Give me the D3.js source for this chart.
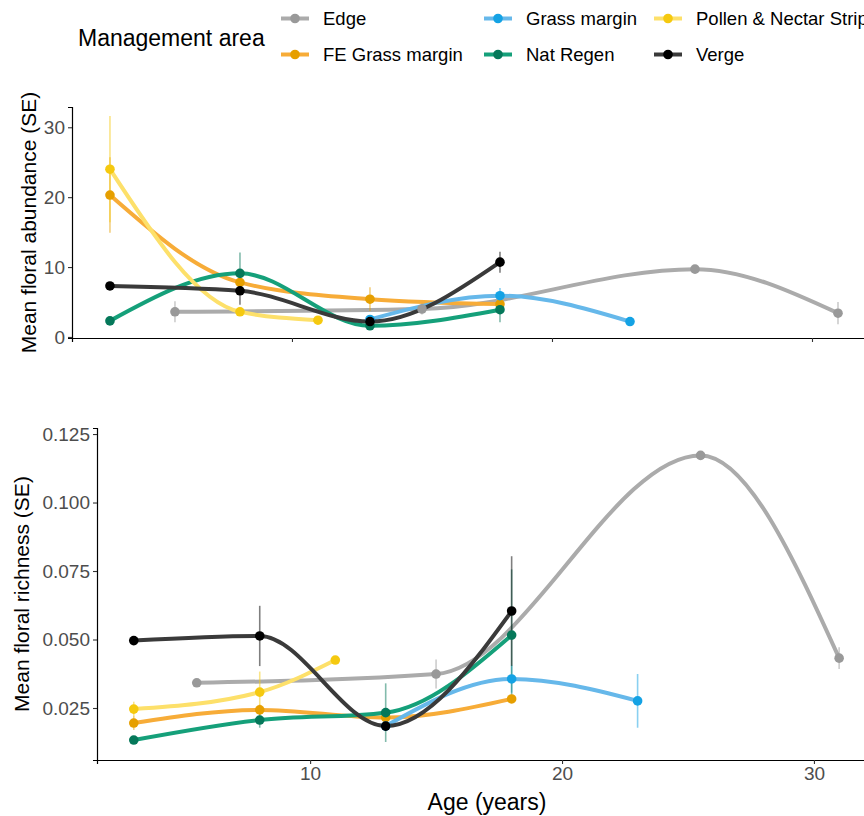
<!DOCTYPE html>
<html>
<head>
<meta charset="utf-8">
<script src="https://cdn.jsdelivr.net/npm/d3@7"></script>
<style>
  body { margin: 0; background: #fff; }
  svg { display: block; font-family: "Liberation Sans", Arial, sans-serif; }
</style>
</head>
<body>
<svg id="chart" width="864" height="816"></svg>
<script>
// ============ data ============
const areas = ['Edge', 'FE Grass margin', 'Grass margin', 'Nat Regen', 'Pollen & Nectar Strip', 'Verge'];
const pointColors = ['#999999', '#E69F00', '#14A2E4', '#05785A', '#F5C90F', '#000000'];
const lineColors = ['#ABABAB', '#F7AC38', '#66B8EA', '#15A07A', '#FDE06A', '#3A3A3A'];

const edgeAge = [5.5, 15, 25.5, 31];
const edgeAbund = [3.6, 4.0, 9.7, 3.4];
const edgeAbundSE = [1.5, 0.8, 0.4, 1.6];
const edgeRich = [0.0342, 0.0374, 0.1172, 0.0432];
const edgeRichSE = [0.001, 0.0053, 0.0008, 0.004];

const feAge = [3, 8, 13, 18];
const feAbund = [20.3, 7.8, 5.4, 4.7];
const feAbundSE = [5.4, 0.8, 1.7, 0.8];
const feRich = [0.0195, 0.0243, 0.0215, 0.0283];
const feRichSE = [0.0025, 0.002, 0.001, 0.001];

const grassAge = [13, 18, 23];
const grassAbund = [2.5, 5.9, 2.2];
const grassAbundSE = [0.4, 1.1, 0.3];
const grassRich = [0.0184, 0.0356, 0.0276];
const grassRichSE = [0.001, 0.005, 0.0098];

const natAge = [3, 8, 13, 18];
const natAbund = [2.3, 9.1, 1.6, 3.9];
const natAbundSE = [0.4, 3.0, 0.3, 1.8];
const natRich = [0.0133, 0.0206, 0.0233, 0.0516];
const natRichSE = [0.001, 0.0028, 0.0107, 0.024];

const pollenAge = [3, 8, 11];
const pollenAbund = [24.0, 3.6, 2.4];
const pollenAbundSE = [7.6, 0.5, 0.3];
const pollenRich = [0.0246, 0.0308, 0.0425];
const pollenRichSE = [0.0027, 0.0075, 0.001];

const vergeAge = [3, 8, 13, 18];
const vergeAbund = [7.3, 6.6, 2.2, 10.7];
const vergeAbundSE = [0.4, 2.0, 0.5, 1.5];
const vergeRich = [0.0496, 0.0513, 0.0184, 0.0604];
const vergeRichSE = [0.001, 0.011, 0.0015, 0.020];

const xTicks = [10, 20, 30];
const abundTicks = [0, 10, 20, 30];
const richTicks = [0.025, 0.050, 0.075, 0.100, 0.125];

// build series table
const ages = [edgeAge, feAge, grassAge, natAge, pollenAge, vergeAge];
const abund = [edgeAbund, feAbund, grassAbund, natAbund, pollenAbund, vergeAbund];
const abundSE = [edgeAbundSE, feAbundSE, grassAbundSE, natAbundSE, pollenAbundSE, vergeAbundSE];
const rich = [edgeRich, feRich, grassRich, natRich, pollenRich, vergeRich];
const richSE = [edgeRichSE, feRichSE, grassRichSE, natRichSE, pollenRichSE, vergeRichSE];

function seriesFor(vals, ses) {
  return areas.map((name, i) => ({
    name, i,
    pts: ages[i].map((a, j) => ({ x: a, y: vals[i][j], se: ses[i][j] }))
  }));
}

const svg = d3.select('#chart');
const tickFont = 19;
const titleFont = 23;
const yTitleFont = 21;

// ============ panels ============
function drawPanel(opts) {
  const x = d3.scaleLinear().domain([1.54, 32.4]).range([opts.left, 874.4]);
  const y = d3.scaleLinear().domain(opts.yDomain).range([opts.bottom, opts.top]);
  const g = svg.append('g');

  // axes
  const xAxis = d3.axisBottom(x).tickValues(xTicks).tickSize(4).tickPadding(3);
  if (!opts.xLabels) xAxis.tickFormat('');
  const gx = g.append('g').attr('transform', `translate(0,${opts.bottom})`).call(xAxis);
  gx.select('.domain').attr('stroke', '#000').attr('stroke-width', 1.2);
  gx.selectAll('.tick line').attr('stroke', '#333').attr('stroke-width', 1.1);
  gx.selectAll('.tick text').attr('font-size', tickFont).attr('fill', '#4d4d4d');

  const gy = g.append('g').attr('transform', `translate(${opts.left},0)`)
    .call(d3.axisLeft(y).tickValues(opts.yTicks).tickFormat(opts.yFormat).tickSize(4).tickPadding(3));
  gy.select('.domain').attr('stroke', '#000').attr('stroke-width', 1.2);
  gy.selectAll('.tick line').attr('stroke', '#333').attr('stroke-width', 1.1);
  gy.selectAll('.tick text').attr('font-size', tickFont).attr('fill', '#4d4d4d');

  const marks = g.append('g');
  const series = seriesFor(opts.vals, opts.ses);
  const line = d3.line().x(d => x(d.x)).y(d => y(d.y)).curve(d3.curveMonotoneX);

  marks.selectAll('path.smooth').data(series).join('path')
    .attr('class', 'smooth')
    .attr('d', d => line(d.pts))
    .attr('fill', 'none')
    .attr('stroke', d => lineColors[d.i])
    .attr('stroke-width', 4);

  series.forEach(s => {
    marks.selectAll(null).data(s.pts).join('line')
      .attr('x1', d => x(d.x)).attr('x2', d => x(d.x))
      .attr('y1', d => y(d.y - d.se)).attr('y2', d => y(d.y + d.se))
      .attr('stroke', pointColors[s.i])
      .attr('stroke-opacity', 0.5)
      .attr('stroke-width', 1.6);
  });

  series.forEach(s => {
    marks.selectAll(null).data(s.pts).join('circle')
      .attr('cx', d => x(d.x)).attr('cy', d => y(d.y))
      .attr('r', 4.8)
      .attr('fill', pointColors[s.i]);
  });

  g.append('text')
    .attr('transform', `translate(${opts.titleX},${(opts.top + opts.bottom) / 2}) rotate(-90)`)
    .attr('text-anchor', 'middle')
    .attr('font-size', yTitleFont)
    .attr('fill', '#000')
    .text(opts.title);
}

drawPanel({
  left: 72, top: 107, bottom: 338,
  yDomain: [-0.15, 32.9], yTicks: abundTicks, yFormat: d3.format('d'),
  vals: abund, ses: abundSE, xLabels: false,
  title: 'Mean floral abundance (SE)', titleX: 36
});

drawPanel({
  left: 97, top: 428, bottom: 760,
  yDomain: [0.00602, 0.1272], yTicks: richTicks, yFormat: d3.format('.3f'),
  vals: rich, ses: richSE, xLabels: true,
  title: 'Mean floral richness (SE)', titleX: 29
});

svg.append('text')
  .attr('x', 487).attr('y', 810)
  .attr('text-anchor', 'middle')
  .attr('font-size', titleFont)
  .text('Age (years)');

// ============ legend ============
const legend = svg.append('g');
legend.append('text')
  .attr('x', 78).attr('y', 46)
  .attr('font-size', titleFont)
  .text('Management area');

const colX = [281, 484, 654];
const rowY = [18.5, 54.5];
areas.forEach((name, i) => {
  const cx = colX[Math.floor(i / 2)];
  const cy = rowY[i % 2];
  const item = legend.append('g').attr('transform', `translate(${cx},${cy})`);
  item.append('line').attr('x1', 0).attr('x2', 28).attr('y1', 0).attr('y2', 0)
    .attr('stroke', lineColors[i]).attr('stroke-width', 4);
  item.append('circle').attr('cx', 14).attr('cy', 0).attr('r', 4.8).attr('fill', pointColors[i]);
  item.append('text').attr('x', 42).attr('y', 0).attr('dy', '0.35em')
    .attr('font-size', 18.5).text(name);
});
</script>
</body>
</html>
